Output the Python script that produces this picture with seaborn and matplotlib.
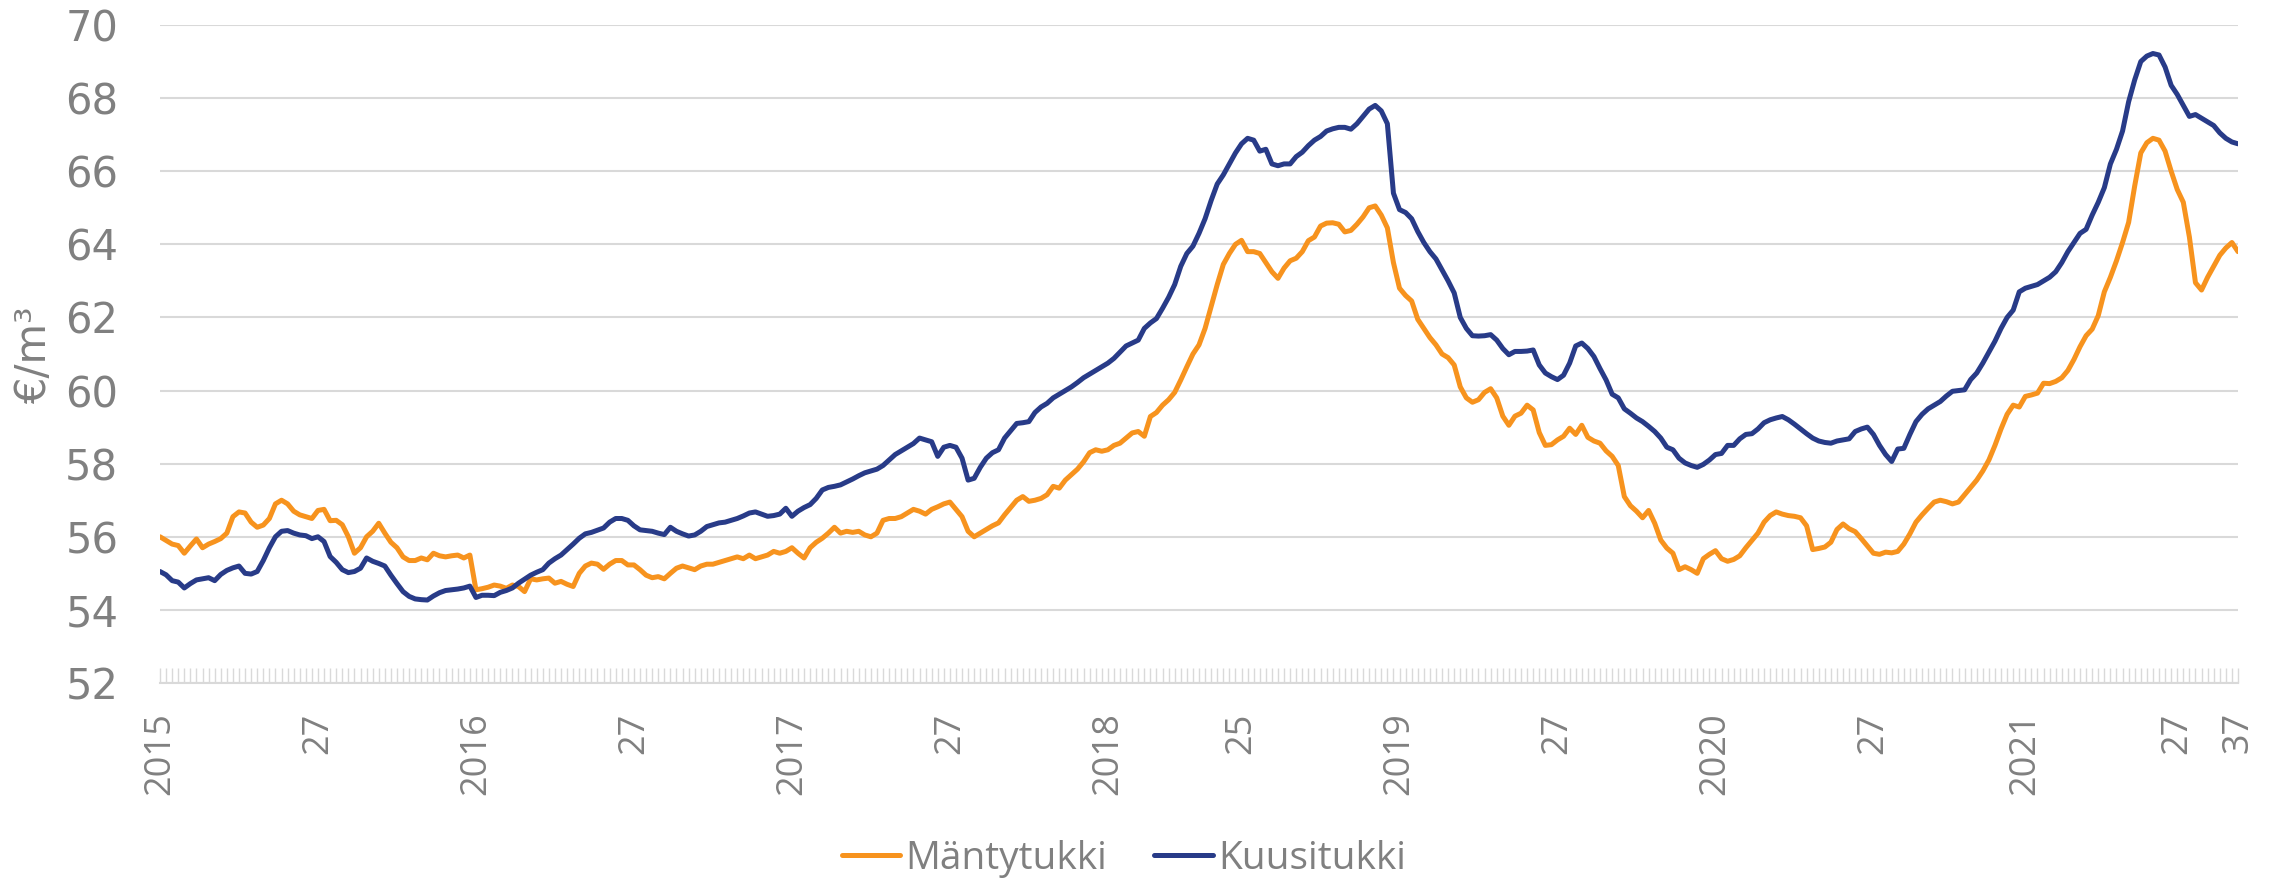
import numpy as np
import pandas as pd
import matplotlib
matplotlib.use("Agg")
import matplotlib.pyplot as plt
import seaborn as sns

# ---------------- data (weekly, 2015 wk1 .. 2021 wk37) ----------------
series_names = ["Mäntytukki", "Kuusitukki"]
mantytukki = [
    56.0, 55.9, 55.8, 55.76, 55.55, 55.75, 55.94, 55.7, 55.8, 55.87,
    55.95, 56.1, 56.55, 56.68, 56.65, 56.4, 56.26, 56.32, 56.5, 56.9,
    57.0, 56.9, 56.7, 56.6, 56.55, 56.5, 56.72, 56.75, 56.44, 56.45,
    56.33, 56.0, 55.55, 55.7, 56.0, 56.15, 56.37, 56.1, 55.85, 55.7,
    55.45, 55.35, 55.35, 55.42, 55.37, 55.55, 55.48, 55.45, 55.48, 55.5,
    55.42, 55.5, 54.55, 54.58, 54.62, 54.68, 54.65, 54.59, 54.68, 54.64,
    54.5, 54.85, 54.82, 54.85, 54.87, 54.73, 54.78, 54.7, 54.64, 55.0,
    55.2, 55.28, 55.25, 55.11, 55.25, 55.35, 55.35, 55.23, 55.23, 55.1,
    54.95, 54.88, 54.91, 54.85, 55.0, 55.14, 55.2, 55.15, 55.1, 55.2,
    55.25, 55.25, 55.3, 55.35, 55.4, 55.45, 55.4, 55.5, 55.4, 55.45,
    55.5, 55.6, 55.55, 55.6, 55.7, 55.55, 55.42, 55.7, 55.85, 55.96,
    56.1, 56.26, 56.1, 56.15, 56.12, 56.15, 56.05, 56.0, 56.1, 56.45,
    56.5, 56.5, 56.55, 56.65, 56.75, 56.7, 56.62, 56.75, 56.82, 56.9,
    56.95, 56.75, 56.55, 56.15, 56.0, 56.1, 56.2, 56.3, 56.38, 56.6,
    56.8, 57.0, 57.1, 56.97, 57.0, 57.05, 57.15, 57.38, 57.33, 57.55,
    57.7, 57.85, 58.05, 58.3, 58.38, 58.34, 58.38, 58.5, 58.56, 58.7,
    58.84, 58.88, 58.75, 59.29, 59.4, 59.6, 59.75, 59.95, 60.29, 60.65,
    61.0, 61.25, 61.7, 62.3, 62.9, 63.45, 63.75, 64.0, 64.11, 63.8,
    63.8, 63.75, 63.5, 63.25, 63.07, 63.35, 63.55, 63.62, 63.8, 64.1,
    64.2, 64.5, 64.58, 64.59, 64.55, 64.34, 64.38, 64.55, 64.75, 65.0,
    65.05, 64.8, 64.45, 63.5, 62.8, 62.6, 62.45, 61.95, 61.7, 61.45,
    61.25, 61.0, 60.9, 60.7, 60.1, 59.8, 59.68, 59.75, 59.95, 60.05,
    59.8, 59.3, 59.05, 59.3, 59.38, 59.6, 59.47, 58.85, 58.5, 58.52,
    58.65, 58.75, 58.97, 58.8, 59.05, 58.72, 58.62, 58.56, 58.35, 58.2,
    57.95, 57.1, 56.85, 56.7, 56.52, 56.72, 56.37, 55.91, 55.69, 55.55,
    55.1, 55.18, 55.1, 55.0, 55.4, 55.52, 55.62, 55.4, 55.33, 55.38,
    55.48, 55.7, 55.9, 56.1, 56.4, 56.58, 56.68, 56.62, 56.58, 56.56,
    56.52, 56.3, 55.65, 55.68, 55.72, 55.85, 56.2, 56.35, 56.22, 56.14,
    55.95, 55.75, 55.55, 55.52, 55.58, 55.56, 55.6, 55.8, 56.08, 56.4,
    56.6, 56.78, 56.95, 57.0, 56.96, 56.9, 56.95, 57.15, 57.35, 57.55,
    57.8, 58.1, 58.5, 58.95, 59.35, 59.6, 59.55, 59.84, 59.88, 59.93,
    60.2, 60.19, 60.25, 60.35, 60.55, 60.85, 61.2, 61.5, 61.68, 62.05,
    62.7, 63.1, 63.55, 64.05, 64.6, 65.6, 66.5, 66.78, 66.9, 66.85,
    66.55, 66.0, 65.5, 65.15, 64.2, 62.95, 62.75, 63.1, 63.4, 63.7,
    63.9, 64.05, 63.8,
]
kuusitukki = [
    55.05, 54.96, 54.8, 54.76, 54.6, 54.72, 54.82, 54.85, 54.88, 54.8,
    54.97, 55.08, 55.15, 55.2, 55.0, 54.98, 55.05, 55.35, 55.7, 56.0,
    56.15, 56.17, 56.1, 56.05, 56.03, 55.95, 56.0, 55.87, 55.46, 55.3,
    55.1, 55.02, 55.05, 55.14, 55.42, 55.33, 55.27, 55.2, 54.95, 54.72,
    54.5, 54.37, 54.3, 54.28, 54.27, 54.38, 54.47, 54.53, 54.55, 54.57,
    54.6, 54.65, 54.34, 54.4, 54.4, 54.39, 54.48, 54.53, 54.6, 54.73,
    54.84, 54.95, 55.03, 55.1, 55.28, 55.4, 55.5, 55.65, 55.8, 55.96,
    56.08, 56.12, 56.18, 56.24, 56.4, 56.5, 56.5, 56.45, 56.3, 56.19,
    56.17, 56.15, 56.1, 56.06, 56.26, 56.15, 56.08, 56.02, 56.05, 56.15,
    56.28, 56.33, 56.38, 56.4, 56.45, 56.5, 56.57, 56.65, 56.68, 56.62,
    56.56, 56.58, 56.62, 56.78, 56.56, 56.7, 56.8, 56.88, 57.05, 57.28,
    57.35, 57.38, 57.42, 57.5, 57.58, 57.67, 57.75, 57.8, 57.85, 57.95,
    58.1, 58.25, 58.35, 58.45, 58.55, 58.7, 58.65, 58.6, 58.2, 58.45,
    58.5, 58.45, 58.15, 57.55, 57.6, 57.9, 58.15, 58.3, 58.38, 58.7,
    58.9, 59.1, 59.12, 59.15, 59.4, 59.55, 59.65, 59.8, 59.9, 60.0,
    60.1, 60.22, 60.35, 60.45, 60.55, 60.65, 60.75, 60.88, 61.05, 61.22,
    61.3, 61.38, 61.7, 61.85, 61.97, 62.25, 62.55, 62.9, 63.4, 63.75,
    63.95, 64.3, 64.7, 65.2, 65.65, 65.9, 66.2, 66.5, 66.75, 66.9,
    66.85, 66.55, 66.6, 66.2, 66.15, 66.2, 66.2, 66.4, 66.52, 66.7,
    66.85, 66.95, 67.1, 67.16, 67.2, 67.2, 67.15, 67.3, 67.5, 67.7,
    67.8, 67.65, 67.3, 65.4, 64.95, 64.87, 64.7, 64.35, 64.05, 63.8,
    63.6, 63.3, 63.0, 62.67, 62.0, 61.7, 61.5, 61.49, 61.5, 61.53,
    61.38, 61.15, 60.98, 61.07, 61.07, 61.08, 61.11, 60.7, 60.48, 60.38,
    60.3, 60.42, 60.75, 61.22, 61.3, 61.15, 60.93, 60.6, 60.29, 59.9,
    59.8, 59.5, 59.38, 59.25, 59.15, 59.02, 58.88, 58.7, 58.45, 58.38,
    58.15, 58.02, 57.95, 57.9, 57.98, 58.1, 58.25, 58.28, 58.5, 58.5,
    58.68, 58.8, 58.82, 58.95, 59.12, 59.2, 59.25, 59.29, 59.2, 59.08,
    58.95, 58.82, 58.7, 58.62, 58.58, 58.56, 58.62, 58.65, 58.68, 58.88,
    58.95, 59.0, 58.8, 58.5, 58.25, 58.06, 58.4, 58.42, 58.8, 59.15,
    59.35, 59.5, 59.6, 59.7, 59.85, 59.98, 60.0, 60.02, 60.3, 60.48,
    60.75, 61.05, 61.35, 61.7, 62.0, 62.2, 62.7, 62.8, 62.85, 62.9,
    63.0, 63.1, 63.25, 63.5, 63.8, 64.05, 64.3, 64.41, 64.8, 65.15,
    65.55, 66.2, 66.6, 67.1, 67.9, 68.5, 69.0, 69.15, 69.22, 69.18,
    68.85, 68.35, 68.1, 67.8, 67.5, 67.55, 67.45, 67.35, 67.25, 67.05,
    66.9, 66.8, 66.75,
]
# category index where each axis label appears, and the label text
tick_idx = [0, 26, 52, 78, 104, 130, 156, 178, 204, 230, 256, 282, 307, 332, 342]
tick_labels = ["2015", "27", "2016", "27", "2017", "27", "2018", "25",
               "2019", "27", "2020", "27", "2021", "27", "37"]
y_ticks = [52, 54, 56, 58, 60, 62, 64, 66, 68, 70]
y_label = "€/m³"

# ---------------- styling ----------------
ORANGE = "#F7931E"
NAVY = "#283B88"
GREY_TXT = "#808080"
GRID = "#D9D9D9"

sns.set_theme(style="white")
plt.rcParams["font.family"] = ["Open Sans", "DejaVu Sans"]

n = len(mantytukki)
df = pd.DataFrame({
    "week": np.concatenate([np.arange(n), np.arange(len(kuusitukki))]),
    "value": mantytukki + kuusitukki,
    "series": [series_names[0]] * n + [series_names[1]] * len(kuusitukki),
})

W, H = 2282, 884
fig = plt.figure(figsize=(W / 100, H / 100), dpi=100)
ax = fig.add_axes([160 / W, 1 - 683 / H, (2238 - 160) / W, (683 - 25) / H])

sns.lineplot(data=df, x="week", y="value", hue="series",
             palette=[ORANGE, NAVY], linewidth=3.6, ax=ax, legend=True,
             solid_joinstyle="round", solid_capstyle="round")

ax.set_xlim(0, n - 1)
ax.set_ylim(52, 70)
ax.set_yticks(y_ticks)
ax.set_yticklabels([str(v) for v in y_ticks], family="DejaVu Sans",
                   fontsize=30, color=GREY_TXT)
ax.yaxis.grid(True, color=GRID, linewidth=1.5)
ax.set_axisbelow(True)
ax.tick_params(axis="y", length=0, pad=30)

ax.set_xticks(tick_idx)
ax.set_xticklabels(tick_labels, rotation=90, fontsize=26, color=GREY_TXT,
                   ha="center", va="top")
ax.set_xticks(np.arange(n), minor=True)
ax.tick_params(axis="x", which="both", bottom=True, direction="in",
               length=10.5, width=1.0, color=GRID, pad=21)
ax.set_xlabel("")
ax.set_ylabel("")

for s in ["top", "right", "left"]:
    ax.spines[s].set_visible(False)
ax.spines["bottom"].set_color(GRID)
ax.spines["bottom"].set_linewidth(1.5)

fig.text(34 / W, 1 - 355 / H, y_label, rotation=90, ha="center",
         va="center", fontsize=30, color=GREY_TXT, family="DejaVu Sans")

handles, labels = ax.get_legend_handles_labels()
ax.legend_.remove()
leg = fig.legend(handles, labels, loc="center", ncol=2,
                 bbox_to_anchor=(1124 / W, 1 - 859 / H), frameon=False,
                 fontsize=28, handlelength=1.5, handletextpad=0.15,
                 columnspacing=1.2)
for t in leg.get_texts():
    t.set_color(GREY_TXT)
for h in leg.legend_handles:
    h.set_linewidth(3.6)

fig.savefig("out.png", dpi=100)
